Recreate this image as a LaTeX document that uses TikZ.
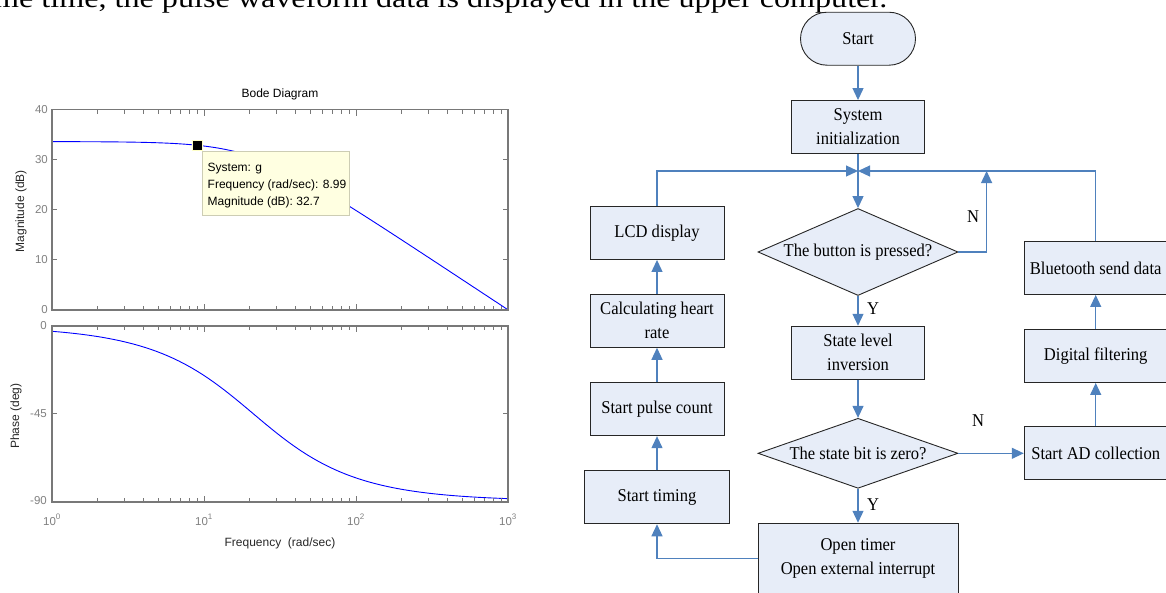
\documentclass[tikz,border=0pt]{standalone}
\usepackage{fontspec}
\setmainfont{Liberation Serif}
\newfontfamily\arialf{Liberation Sans}
\newfontfamily\widefont[FakeStretch=1.19]{Liberation Serif}
\newfontfamily\narrowserif[FakeStretch=0.92]{Liberation Serif}
\usetikzlibrary{shapes.geometric,arrows.meta,calc}

\definecolor{fcfill}{RGB}{231,237,248}
\definecolor{fcline}{RGB}{79,129,189}
\definecolor{axgray}{RGB}{120,120,120}
\definecolor{ticklab}{RGB}{128,128,128}
\definecolor{tipfill}{RGB}{255,255,225}
\definecolor{tipdraw}{RGB}{205,205,180}
\definecolor{markborder}{RGB}{255,255,200}

\newcommand\fcfont{\narrowserif\fontsize{18}{24}\selectfont}

\tikzset{
  fcbox/.style={draw=black!85, fill=fcfill, line width=0.9pt, inner sep=0pt,
    align=center, font=\fcfont},
  fcdiam/.style={diamond, draw=black!85, fill=fcfill, line width=0.9pt, inner sep=0pt,
    align=center, font=\fcfont},
  fclabel/.style={font=\fcfont, inner sep=0pt},
  flowarr/.style={draw=fcline, line width=1.2pt, -{Triangle[length=12pt,width=11pt]}},
  axbox/.style={draw=axgray, line width=1.5pt},
  tickline/.style={draw=axgray, line width=0.8pt},
  ticklabel/.style={text=ticklab, font=\arialf\fontsize{11.5}{11.5}\selectfont, inner sep=0pt},
  axlabel/.style={text=black!85, font=\arialf\fontsize{12}{12}\selectfont, inner sep=0pt},
  tiptext/.style={text=black, font=\arialf\fontsize{12}{12}\selectfont, inner sep=0pt},
  bodecurve/.style={draw=blue, line width=0.9pt},
}

\begin{document}
\begin{tikzpicture}[x=1pt,y=-1pt]
\useasboundingbox (0,0) rectangle (1166,592);
\clip (0,0) rectangle (1166,592);

% ---- cut-off text line at top ----
\node[anchor=base west, inner sep=0pt, font=\widefont\fontsize{27}{27}\selectfont] (toptext) at (-6,7.5)
  {me time, the pulse waveform data is displayed in the upper computer.};

% ================= Bode diagram =================
\node[axlabel, text=black] (title) at (280,94) {Bode Diagram};

% curves
\draw[bodecurve] plot[domain=0:3, samples=80, variable=\t]
  ({52+152*\t}, {310-5.0125*(33.6-10*log10(1+(pow(10,\t)/21)^2))});
\draw[bodecurve] plot[domain=0:3, samples=80, variable=\t]
  ({52+152*\t}, {326+1.944*atan(pow(10,\t)/21)});

% boxes
\draw[axbox] (52,109.5) rectangle (508,310);
\draw[axbox] (52,326) rectangle (508,502);

% x ticks
\foreach \d in {0,1,2} {
  \foreach \m in {2,...,9} {
    \pgfmathsetmacro\xx{52+152*(\d+log10(\m))}
    \draw[tickline] (\xx,310) -- ++(0,-4) (\xx,109.5) -- ++(0,4)
                    (\xx,502) -- ++(0,-4) (\xx,326) -- ++(0,4);
  }
}
\foreach \xx in {204,356} {
  \draw[tickline] (\xx,310) -- ++(0,-6) (\xx,109.5) -- ++(0,6)
                  (\xx,502) -- ++(0,-6) (\xx,326) -- ++(0,6);
}
% y ticks magnitude
\foreach \k in {1,2,3} {
  \pgfmathsetmacro\yy{310-50.125*\k}
  \draw[tickline] (52,\yy) -- ++(5,0) (508,\yy) -- ++(-5,0);
}
% y ticks phase
\draw[tickline] (52,413.5) -- ++(5,0) (508,413.5) -- ++(-5,0);
\draw[tickline] (52,501) -- ++(5,0) (508,501) -- ++(-5,0);

% tick labels
\node[ticklabel, anchor=east] (m40) at (48,109.5) {40};
\node[ticklabel, anchor=east] (m30) at (48,159.9) {30};
\node[ticklabel, anchor=east] (m20) at (48,209.8) {20};
\node[ticklabel, anchor=east] (m10) at (48,259.9) {10};
\node[ticklabel, anchor=east] (m00) at (48,310) {0};
\node[ticklabel, anchor=east] (p00) at (47,326) {0};
\node[ticklabel, anchor=east] (p45) at (47,413.5) {-45};
\node[ticklabel, anchor=east] (p90) at (47,501) {-90};
\node[ticklabel, anchor=base west] (x0) at (43,525.5) {10\raisebox{6pt}{\fontsize{8}{8}\selectfont 0}};
\node[ticklabel, anchor=base west] (x1) at (195,525.5) {10\raisebox{6pt}{\fontsize{8}{8}\selectfont 1}};
\node[ticklabel, anchor=base west] (x2) at (347,525.5) {10\raisebox{6pt}{\fontsize{8}{8}\selectfont 2}};
\node[ticklabel, anchor=base west] (x3) at (499,525.5) {10\raisebox{6pt}{\fontsize{8}{8}\selectfont 3}};

% axis labels
\node[axlabel, rotate=90] (maglab) at (21,211) {Magnitude (dB)};
\node[axlabel, rotate=90] (phlab) at (16,416) {Phase (deg)};
\node[axlabel] (freqlab) at (280,543) {Frequency\ \ (rad/sec)};

% data tip
\node[draw=tipdraw, fill=tipfill, line width=0.7pt, minimum width=147pt, minimum height=64pt,
      inner sep=0pt, anchor=north west] (tipbox) at (202,151) {};
\node[draw=markborder, fill=black, line width=1pt, minimum size=10pt, inner sep=0pt] (tipmark) at (197,145.5) {};
\node[tiptext, anchor=base west] (tip1) at (207.5,171.5) {System: g};
\node[tiptext, anchor=base west] (tip2) at (207.5,188.5) {Frequency (rad/sec): 8.99};
\node[tiptext, anchor=base west] (tip3) at (207.5,205.5) {Magnitude (dB): 32.7};

% ================= Flowchart =================
\node[fcbox, rounded corners=26.5pt, minimum width=115pt, minimum height=53pt] (start) at (858,38.7) {Start};
\node[fcbox, minimum width=133pt, minimum height=53pt] (init) at (858,127) {System\\initialization};
\node[fcdiam, aspect=2.3, minimum width=200pt, minimum height=87pt] (d1) at (858,252) {The button is pressed?};
\node[fcbox, minimum width=133pt, minimum height=53pt] (state) at (858,352.7) {State level\\inversion};
\node[fcdiam, aspect=2.85, minimum width=200pt, minimum height=70pt] (d2) at (858,453.3) {The state bit is zero?};
\node[fcbox, minimum width=200pt, minimum height=71pt] (timer) at (858,558.7) {Open timer\\Open external interrupt};

\node[fcbox, minimum width=134pt, minimum height=53pt] (lcd) at (657,233) {LCD display};
\node[fcbox, minimum width=134pt, minimum height=53pt] (calc) at (657,320.8) {Calculating heart\\rate};
\node[fcbox, minimum width=134pt, minimum height=53pt] (pulse) at (657,409.2) {Start pulse count};
\node[fcbox, minimum width=145pt, minimum height=53pt] (timing) at (657,497.3) {Start timing};

\node[fcbox, minimum width=143pt, minimum height=53pt] (bt) at (1095.7,268) {Bluetooth send data};
\node[fcbox, minimum width=143pt, minimum height=53pt] (filt) at (1095.7,356) {Digital filtering};
\node[fcbox, minimum width=143pt, minimum height=53pt] (ad) at (1095.7,453.3) {Start AD collection};

\coordinate (jn) at (858,171);
\coordinate (nup) at (986.6,171);

\draw[flowarr] (start) -- (init);
\draw[flowarr] (init) -- (d1);
\draw[flowarr] (lcd.north) |- (jn);
\draw[flowarr] (bt.north) |- (jn);
\draw[flowarr] (d1.east) -| (nup);
\draw[flowarr] (d1) -- (state);
\draw[flowarr] (state) -- (d2);
\draw[flowarr] (d2) -- (ad);
\draw[flowarr] (d2) -- (timer);
\draw[flowarr] (timer.west) -| (timing.south);
\draw[flowarr] (timing) -- (pulse);
\draw[flowarr] (pulse) -- (calc);
\draw[flowarr] (calc) -- (lcd);
\draw[flowarr] (ad) -- (filt);
\draw[flowarr] (filt) -- (bt);

\node[fclabel] (n1) at (973,217) {N};
\node[fclabel] (y1) at (873,309) {Y};
\node[fclabel] (n2) at (978,421) {N};
\node[fclabel] (y2) at (873,505) {Y};
\end{tikzpicture}
\end{document}
